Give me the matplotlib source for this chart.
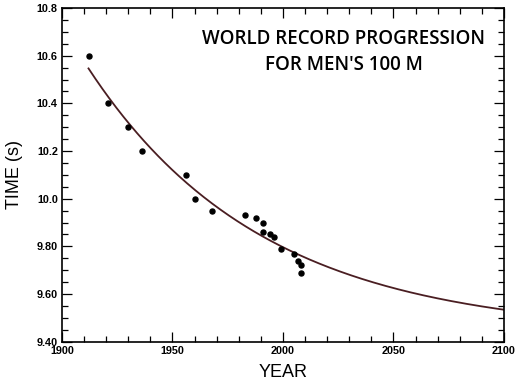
import numpy as np
import matplotlib
matplotlib.use("Agg")
import matplotlib.pyplot as plt
from matplotlib.ticker import MultipleLocator, FixedLocator

# record progression
years = [1912, 1921, 1930, 1936, 1956, 1960, 1968, 1983, 1988, 1991, 1991,
         1994, 1996, 1999, 2005, 2007, 2008, 2008]
times = [10.60, 10.40, 10.30, 10.20, 10.10, 10.00, 9.95, 9.93, 9.92, 9.90, 9.86,
         9.85, 9.84, 9.79, 9.77, 9.74, 9.72, 9.69]

ytick_vals = [9.4, 9.6, 9.8, 10.0, 10.2, 10.4, 10.6, 10.8]
ytick_labels = ["9.40", "9.60", "9.80", "10.0", "10.2", "10.4", "10.6", "10.8"]
xtick_vals = [1900, 1950, 2000, 2050, 2100]

yr = np.array(years, float)
tm = np.array(times, float)

# exponential decay fit t = a + b*exp(-k*(year-1900)), k by grid search
best = None
for k in np.linspace(0.001, 0.05, 2000):
    M = np.column_stack([np.ones_like(yr), np.exp(-k * (yr - 1900))])
    coef, res, *_ = np.linalg.lstsq(M, tm, rcond=None)
    err = np.sum((M @ coef - tm) ** 2)
    if best is None or err < best[0]:
        best = (err, k, coef)
_, k_fit, (a_fit, b_fit) = best

fx = np.linspace(years[0], 2100, 300)
fy = a_fit + b_fit * np.exp(-k_fit * (fx - 1900))

fig = plt.figure(figsize=(5.2, 3.83), dpi=100)
ax = fig.add_axes([0.1192, 0.1078, 0.85, 0.8712])

ax.plot(fx, fy, color="#4a1e22", lw=1.3)
ax.plot(years, times, "o", color="black", ms=3.6)

ax.set_xlim(1900, 2100)
ax.set_ylim(9.4, 10.8)
ax.xaxis.set_major_locator(FixedLocator(xtick_vals))
ax.xaxis.set_minor_locator(MultipleLocator(10))
ax.yaxis.set_major_locator(FixedLocator(ytick_vals))
ax.yaxis.set_minor_locator(MultipleLocator(0.05))
ax.set_yticklabels(ytick_labels)
ax.tick_params(which="both", direction="in", top=True, right=True, width=0.9,
               labelsize=7.8, pad=3)
ax.tick_params(which="major", length=7)
ax.tick_params(which="minor", length=4.5)
for lab in ax.get_xticklabels() + ax.get_yticklabels():
    lab.set_family("Liberation Sans")
    lab.set_weight("bold")
for s in ax.spines.values():
    s.set_linewidth(1.2)

ax.set_xlabel("YEAR", family="Liberation Sans", fontsize=13, labelpad=6)
ax.set_ylabel("TIME (s)", family="Liberation Sans", fontsize=13, labelpad=10)

ax.text(0.638, 0.868, "WORLD RECORD PROGRESSION\nFOR MEN'S 100 M",
        transform=ax.transAxes, ha="center", va="center", family="Open Sans",
        weight="semibold", fontsize=13.5, linespacing=1.35)

fig.savefig("out.png", dpi=100)
